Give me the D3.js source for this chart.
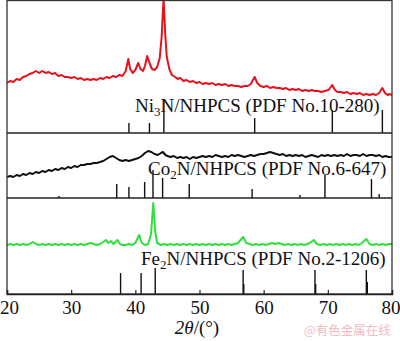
<!DOCTYPE html>
<html>
<head>
<meta charset="utf-8">
<script src="https://cdn.jsdelivr.net/npm/d3@7/dist/d3.min.js"></script>
<style>
  html, body { margin: 0; padding: 0; background: #fff; }
  svg { display: block; }
</style>
</head>
<body>
<svg id="chart" width="400" height="341"></svg>
<script>
// XRD patterns of the three metal nitride / NHPCS composites with reference cards

const xTicks = [20, 30, 40, 50, 60, 70, 80];

// Ni3N/NHPCS measured pattern: [2θ, intensity (a.u.)]
const ni3nPattern = [
  [20,50],[20.5,52],[21,51],[21.5,54],[22,53],[22.5,56],[23,57],[23.5,59],[24,60],[24.5,62],
  [25,60],[25.5,62],[26,60],[26.5,61],[27,59],[27.5,60],[28,57],[28.5,58],[29,56],[29.5,56],
  [30,55],[30.5,56],[31,54],[31.5,55],[32,53],[32.5,54],[33,53],[33.5,54],[34,53],[34.5,55],
  [35,54],[35.5,56],[36,55],[36.5,57],[37,56],[37.5,58],[38,57],[38.5,62],[38.9,74],[39.2,64],
  [39.6,60],[40,63],[40.45,70],[40.8,64],[41.2,62],[41.5,67],[41.85,77],[42.2,70],[42.6,64],[43,63],
  [43.4,66],[43.8,75],[44.1,96],[44.4,135],[44.65,100],[44.9,76],[45.3,64],[45.7,58],[46.2,56],[46.6,54],
  [47,55],[47.5,52],[48,53],[48.5,51],[49,52],[49.5,50],[50,51],[50.5,49],[51,50],[51.5,49],
  [52,50],[52.5,48],[53,49],[53.5,48],[54,49],[54.5,47],[55,48],[55.5,47],[56,47],[56.5,46],
  [57,47],[57.5,47],[58,49],[58.6,56],[59,50],[59.5,47],[60,46],[60.5,47],[61,45],[61.5,46],
  [62,45],[62.5,45],[63,44],[63.5,45],[64,43],[64.5,44],[65,43],[65.5,44],[66,42],[66.5,43],
  [67,42],[67.5,43],[68,42],[68.5,42],[69,41],[69.5,42],[70.1,43],[70.7,48],[71.1,43],[71.5,41],
  [72,41],[72.5,40],[73,41],[73.5,39],[74,40],[74.5,39],[75,40],[75.5,38],[76,39],[76.5,38],
  [77,39],[77.5,38],[78,40],[78.5,45],[78.9,40],[79.3,38],[79.6,39],[80,38]
];

// Co2N/NHPCS measured pattern
const co2nPattern = [
  [20,21],[20.5,22],[21,21],[21.5,23],[22,22],[22.5,24],[23,23],[23.5,25],[24,24],[24.5,26],
  [25,25],[25.5,27],[26,26],[26.5,28],[27,27],[27.5,29],[28,28],[28.5,30],[29,29],[29.5,31],
  [30,30],[30.5,32],[31,31],[31.5,33],[32,33],[32.5,34],[33,34],[33.5,35],[34,35],[34.5,36],
  [35,37],[35.5,39],[36,41],[36.5,42],[37,40],[37.5,38],[38,37],[38.5,38],[39,37],[39.5,38],
  [40,39],[40.5,40],[41,42],[41.5,45],[42,47],[42.5,46],[43,44],[43.5,43],[44,45],[44.3,46],
  [44.7,43],[45,42],[45.5,41],[46,42],[46.5,40],[47,41],[47.5,40],[48,41],[48.5,39],[49,41],
  [49.5,40],[50,41],[50.5,42],[51,41],[51.5,42],[52,41],[52.5,43],[53,42],[53.5,41],[54,42],
  [54.5,41],[55,43],[55.5,42],[56,43],[56.5,42],[57,41],[57.5,42],[58,43],[58.5,42],[59,43],
  [59.5,44],[60,44],[60.5,45],[61,46],[61.5,45],[62,44],[62.5,43],[63,44],[63.5,42],[64,43],
  [64.5,42],[65,43],[65.5,42],[66,43],[66.5,41],[67,42],[67.5,43],[68,42],[68.5,41],[69,43],
  [69.5,42],[70,43],[70.5,42],[71,43],[71.5,42],[72,43],[72.5,42],[73,44],[73.5,42],[74,43],
  [74.5,43],[75,42],[75.5,44],[76,42],[76.5,43],[77,43],[77.5,42],[78,43],[78.5,41],[79,42],
  [79.5,41],[80,41]
];

// Fe2N/NHPCS measured pattern
const fe2nPattern = [
  [20,49],[20.5,50],[21,49],[21.5,50],[22,49],[22.5,50],[23,49],[23.5,50],[24,52],[24.5,50],
  [25,49],[25.5,50],[26,49],[26.5,50],[27,49],[27.5,50],[28,49],[28.5,50],[29,49],[29.5,50],
  [30,49],[30.5,50],[31,49],[31.5,50],[32,49],[32.5,50],[33,51],[33.5,50],[34,49],[34.5,50],
  [35,52],[35.4,54],[35.8,51],[36.2,53],[36.6,50],[37.2,54],[37.6,50],[38,49],[38.5,49],[39,50],
  [39.5,49],[40,51],[40.6,59],[41,51],[41.5,49],[42,50],[42.45,60],[42.8,91],[43.1,62],[43.4,51],
  [44,49],[44.5,50],[45,49],[45.5,50],[46,49],[46.5,50],[47,49],[47.5,50],[48,49],[48.5,50],
  [49,49],[49.5,50],[50,49],[50.5,50],[51,49],[51.5,50],[52,49],[52.5,50],[53,49],[53.5,50],
  [54,49],[54.5,50],[55,49],[55.5,50],[56,51],[56.8,57],[57.3,51],[57.8,50],[58.3,49],[58.8,50],
  [59.3,49],[59.8,50],[60.3,49],[60.8,50],[61.3,51],[61.8,50],[62.3,51],[62.8,50],[63.3,49],[63.8,50],
  [64.3,49],[64.8,50],[65.3,49],[65.8,50],[66.3,49],[66.8,50],[67.2,51],[67.8,54],[68.3,50],[68.8,49],
  [69.3,50],[69.8,49],[70.3,50],[70.8,49],[71.3,50],[71.8,49],[72.3,50],[72.8,49],[73.3,50],[73.8,49],
  [74.3,50],[74.8,49],[75.3,51],[76,55],[76.5,50],[77,49],[77.5,50],[78,49],[78.5,50],[79,49],
  [79.5,50],[80,50]
];

// Reference cards: [2θ, relative stick height]
const ni3nCard = [[39.0,10],[42.2,10],[44.45,33],[58.6,15],[70.7,23],[78.5,23]];
const co2nCard = [[28.1,2],[37.1,14],[39.0,11],[41.45,16],[42.75,28],[44.25,20],[48.4,14],
                  [58.2,9],[65.65,3],[69.55,23],[76.8,19],[78.0,4]];
const fe2nCard = [[37.7,21],[40.9,21],[43.1,26],[56.8,24],[56.9,10],[68.0,24],[68.1,10],
                  [76.0,24],[76.15,12]];

const labels = [
  { base: "Ni", sub: "3", rest: "N/NHPCS (PDF No.10-280)" },
  { base: "Co", sub: "2", rest: "N/NHPCS (PDF No.6-647)" },
  { base: "Fe", sub: "2", rest: "N/NHPCS (PDF No.2-1206)" }
];

const svg = d3.select("#chart");
const plotLeft = 7, plotRight = 392, plotTop = 0.5, plotBottom = 294;
const panelEdges = [plotTop, 133, 198, plotBottom];

const x = d3.scaleLinear().domain([20, 80]).range([plotLeft, plotRight]);

// each panel uses one pixel-sized intensity unit from its lower edge
const panels = [
  { pattern: ni3nPattern, card: ni3nCard, color: "#e8101a", label: labels[0], lx: 135, ly: 112 },
  { pattern: co2nPattern, card: co2nCard, color: "#111111", label: labels[1], lx: 148, ly: 175 },
  { pattern: fe2nPattern, card: fe2nCard, color: "#2ee03a", label: labels[2], lx: 141, ly: 265 }
];

svg.append("defs").append("clipPath").attr("id", "plotClip")
  .append("rect").attr("x", plotLeft).attr("y", plotTop)
  .attr("width", plotRight - plotLeft).attr("height", plotBottom - plotTop);

panels.forEach((p, i) => {
  const y0 = panelEdges[i + 1], y1 = panelEdges[i];
  const y = d3.scaleLinear().domain([0, y0 - y1]).range([y0, y1]);
  const g = svg.append("g").attr("clip-path", "url(#plotClip)");

  // reference sticks
  g.selectAll("line.stick").data(p.card).join("line")
    .attr("class", "stick")
    .attr("x1", d => x(d[0])).attr("x2", d => x(d[0]))
    .attr("y1", y(0)).attr("y2", d => y(d[1]))
    .attr("stroke", "#111").attr("stroke-width", 1.4);

  // measured pattern
  g.append("path")
    .datum(p.pattern)
    .attr("fill", "none")
    .attr("stroke", p.color)
    .attr("stroke-width", 2)
    .attr("stroke-linejoin", "round")
    .attr("d", d3.line().x(d => x(d[0])).y(d => y(d[1])));

  // sample / card label
  const t = svg.append("text")
    .attr("x", p.lx).attr("y", p.ly)
    .attr("font-family", "'Liberation Serif', 'Times New Roman', serif")
    .attr("font-size", 19).attr("fill", "#111");
  t.append("tspan").text(p.label.base);
  t.append("tspan").attr("dy", 4).attr("font-size", 13).text(p.label.sub);
  t.append("tspan").attr("dy", -4).text(p.label.rest);
});

// frame and panel separators
svg.append("rect")
  .attr("x", plotLeft).attr("y", plotTop)
  .attr("width", plotRight - plotLeft).attr("height", plotBottom - plotTop)
  .attr("fill", "none").attr("stroke", "#333").attr("stroke-width", 1.3);
svg.selectAll("line.sep").data([panelEdges[1], panelEdges[2]]).join("line")
  .attr("class", "sep")
  .attr("x1", plotLeft).attr("x2", plotRight).attr("y1", d => d).attr("y2", d => d)
  .attr("stroke", "#222").attr("stroke-width", 1.5);

// bottom axis with inward ticks
const axis = d3.axisBottom(x).tickValues(xTicks).tickSize(-4).tickPadding(7).tickFormat(d3.format("d"));
const ax = svg.append("g").attr("transform", `translate(0,${plotBottom})`).call(axis);
ax.select(".domain").attr("stroke", "#222").attr("stroke-width", 1.5);
ax.selectAll(".tick line").attr("stroke", "#222").attr("stroke-width", 1.2);
ax.selectAll(".tick text")
  .attr("font-family", "'Liberation Serif', 'Times New Roman', serif")
  .attr("font-size", 19).attr("fill", "#111")
  .attr("dx", d => d === 20 ? 2 : d === 80 ? -1.5 : 0);

// axis title
const xt = svg.append("text")
  .attr("x", 197).attr("y", 334).attr("text-anchor", "middle")
  .attr("font-family", "'Liberation Serif', 'Times New Roman', serif")
  .attr("font-size", 19).attr("fill", "#111");
xt.append("tspan").attr("font-style", "italic").text("2θ");
xt.append("tspan").text("/(°)");

// source mark
svg.append("text")
  .attr("x", 304).attr("y", 335)
  .attr("font-family", "'Noto Sans CJK SC', sans-serif")
  .attr("font-size", 12.5).attr("fill", "#f3bcc4")
  .text("@有色金属在线");
</script>
</body>
</html>
